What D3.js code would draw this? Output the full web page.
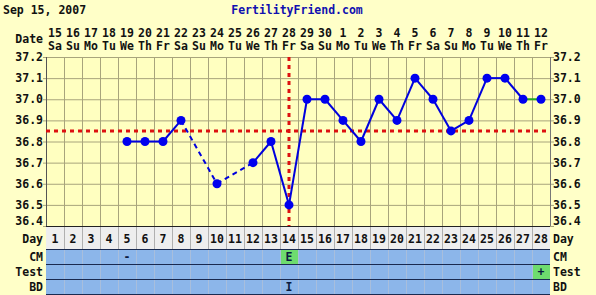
<!DOCTYPE html>
<html><head><meta charset="utf-8">
<script src="https://cdn.jsdelivr.net/npm/d3@7"></script>
<style>
html,body{margin:0;padding:0;background:#ffffc8;}
svg{display:block;}
text{font-family:"DejaVu Sans Mono",monospace;font-weight:bold;}
</style></head><body>
<svg id="c" width="596" height="295"></svg>
<script>
const title = "Sep 15, 2007";
const site = "FertilityFriend.com";
const days = d3.range(1, 29);
const dates = [15,16,17,18,19,20,21,22,23,24,25,26,27,28,29,30,1,2,3,4,5,6,7,8,9,10,11,12];
const weekdays = ["Sa","Su","Mo","Tu","We","Th","Fr","Sa","Su","Mo","Tu","We","Th","Fr","Sa","Su","Mo","Tu","We","Th","Fr","Sa","Su","Mo","Tu","We","Th","Fr"];
const temps = [null,null,null,null,36.8,36.8,36.8,36.9,null,36.6,null,36.7,36.8,36.5,37.0,37.0,36.9,36.8,37.0,36.9,37.1,37.0,36.85,36.9,37.1,37.1,37.0,37.0];
const yTicks = [36.4,36.5,36.6,36.7,36.8,36.9,37.0,37.1,37.2];
const coverline = 36.85;
const ovulationDay = 14;
const cmMarks = [{day:5,text:"-",hl:false},{day:14,text:"E",hl:true}];
const testMarks = [{day:28,text:"+",hl:true}];
const bdMarks = [{day:14,text:"I",hl:false}];
const rowLabels = ["CM","Test","BD"];
const greenSegments = [27]; // segment starting at this day drawn green

const svg = d3.select("#c");
const L = 46, R = 550, T = 57, B = 226;
const x = d3.scaleBand().domain(days).range([L, R]);
const y = d3.scaleLinear().domain([36.4, 37.2]).range([B, T]);
const cx = d => x(d) + x.bandwidth()/2;
const labelY = d => d === 36.4 ? y(d) - 1 : y(d) + 4;

// plot background
svg.append("rect").attr("x",L).attr("y",T).attr("width",R-L).attr("height",B-T).attr("fill","#ffffc0");

// grid
const gridCol = "#a8a47c";
svg.append("g").selectAll("line").data(yTicks).join("line")
  .attr("x1",L-3).attr("x2",R+4).attr("y1",d=>y(d)+0.5).attr("y2",d=>y(d)+0.5)
  .attr("stroke",gridCol).attr("stroke-width",1);
svg.append("g").selectAll("line").data(d3.range(0,29)).join("line")
  .attr("x1",i=>L+i*x.bandwidth()+0.5).attr("x2",i=>L+i*x.bandwidth()+0.5)
  .attr("y1",T).attr("y2",B).attr("stroke",gridCol).attr("stroke-width",1);
svg.append("line").attr("x1",L+0.5).attr("x2",L+0.5).attr("y1",T).attr("y2",B).attr("stroke","#555");
svg.append("line").attr("x1",R+0.5).attr("x2",R+0.5).attr("y1",T).attr("y2",B).attr("stroke","#777");

// title
svg.append("text").attr("x",3).attr("y",14).attr("font-size",11.5).attr("fill","#111").text(title);
svg.append("text").attr("x",297).attr("y",14).attr("font-size",11.5).attr("text-anchor","middle").attr("fill","#1010b0").text(site);

// header
svg.append("text").attr("x",43).attr("y",43).attr("font-size",11.5).attr("text-anchor","end").attr("fill","#111").text("Date");
svg.append("g").selectAll("text").data(days).join("text")
  .attr("x",d=>cx(d)).attr("y",37).attr("font-size",11.5).attr("text-anchor","middle").attr("fill","#111")
  .text((d,i)=>dates[i]);
svg.append("g").selectAll("text").data(days).join("text")
  .attr("x",d=>cx(d)).attr("y",50).attr("font-size",11.5).attr("text-anchor","middle").attr("fill","#111")
  .text((d,i)=>weekdays[i]);

// y labels
const fmt = d3.format(".1f");
svg.append("g").selectAll("text").data(yTicks).join("text")
  .attr("x",43).attr("y",labelY).attr("font-size",11.5).attr("text-anchor","end").attr("fill","#111").text(fmt);
svg.append("g").selectAll("text").data(yTicks).join("text")
  .attr("x",553).attr("y",labelY).attr("font-size",11.5).attr("fill","#111").text(fmt);

// bottom rows
const dayTop = B, dayBot = 249, rowH = 15;
svg.append("rect").attr("x",L).attr("y",dayTop).attr("width",R-L).attr("height",dayBot-dayTop).attr("fill","#eeeeee");
svg.append("g").selectAll("line").data(d3.range(1,28)).join("line")
  .attr("x1",i=>L+i*x.bandwidth()+0.5).attr("x2",i=>L+i*x.bandwidth()+0.5)
  .attr("y1",dayTop).attr("y2",dayBot).attr("stroke","#b0b0b0");
svg.append("text").attr("x",43).attr("y",243).attr("font-size",11.5).attr("text-anchor","end").attr("fill","#111").text("Day");
svg.append("text").attr("x",553).attr("y",243).attr("font-size",11.5).attr("fill","#111").text("Day");
svg.append("g").selectAll("text").data(days).join("text")
  .attr("x",d=>cx(d)).attr("y",243).attr("font-size",11.5).attr("text-anchor","middle").attr("fill","#111").text(d=>d);

const rows = [cmMarks, testMarks, bdMarks];
rows.forEach((marks, r) => {
  const ry = dayBot + r*rowH;
  svg.append("rect").attr("x",L).attr("y",ry).attr("width",R-L).attr("height",rowH).attr("fill","#8cb6ea");
  svg.append("g").selectAll("rect").data(marks.filter(m=>m.hl)).join("rect")
    .attr("x",m=>x(m.day)+1).attr("y",ry+1).attr("width",x.bandwidth()-1).attr("height",rowH-1).attr("fill","#6edc6e");
  svg.append("g").selectAll("line").data(d3.range(1,28)).join("line")
    .attr("x1",i=>L+i*x.bandwidth()+0.5).attr("x2",i=>L+i*x.bandwidth()+0.5)
    .attr("y1",ry).attr("y2",ry+rowH).attr("stroke","#a8bedc");
  svg.append("line").attr("x1",L).attr("x2",R).attr("y1",ry+0.5).attr("y2",ry+0.5).attr("stroke","#1a2a50");
  svg.append("g").selectAll("text").data(marks).join("text")
    .attr("x",m=>cx(m.day)).attr("y",ry+11.5).attr("font-size",11.5).attr("text-anchor","middle").attr("fill","#0a1a40").text(m=>m.text);
  svg.append("text").attr("x",43).attr("y",ry+12).attr("font-size",11.5).attr("text-anchor","end").attr("fill","#111").text(rowLabels[r]);
  svg.append("text").attr("x",553).attr("y",ry+12).attr("font-size",11.5).attr("fill","#111").text(rowLabels[r]);
});
svg.append("line").attr("x1",L).attr("x2",R).attr("y1",dayBot+3*rowH+0.5).attr("y2",dayBot+3*rowH+0.5).attr("stroke","#1a2a50");
svg.append("line").attr("x1",L).attr("x2",R).attr("y1",B+0.5).attr("y2",B+0.5).attr("stroke","#222");

// coverline & ovulation
svg.append("line").attr("x1",L).attr("x2",R).attr("y1",y(coverline)).attr("y2",y(coverline))
  .attr("stroke","#dd1010").attr("stroke-width",3).attr("stroke-dasharray","4,4");
svg.append("line").attr("x1",cx(ovulationDay)).attr("x2",cx(ovulationDay)).attr("y1",T).attr("y2",B)
  .attr("stroke","#dd1010").attr("stroke-width",3).attr("stroke-dasharray","4,4");

// temperature segments
const pts = days.map((d,i)=>({day:d,t:temps[i]})).filter(p=>p.t!==null);
const segs = d3.pairs(pts).map(([a,b])=>({a,b,gap:b.day-a.day>1,green:greenSegments.includes(a.day)}));
svg.append("g").selectAll("line").data(segs).join("line")
  .attr("x1",s=>cx(s.a.day)).attr("y1",s=>y(s.a.t)).attr("x2",s=>cx(s.b.day)).attr("y2",s=>y(s.b.t))
  .attr("stroke",s=>s.green?"#22aa22":"#0000dd").attr("stroke-width",2)
  .attr("stroke-dasharray",s=>s.gap?"5,4":null);
svg.append("g").selectAll("circle").data(pts).join("circle")
  .attr("cx",p=>cx(p.day)).attr("cy",p=>y(p.t)).attr("r",4.5).attr("fill","#0000ee");
</script>
</body></html>
